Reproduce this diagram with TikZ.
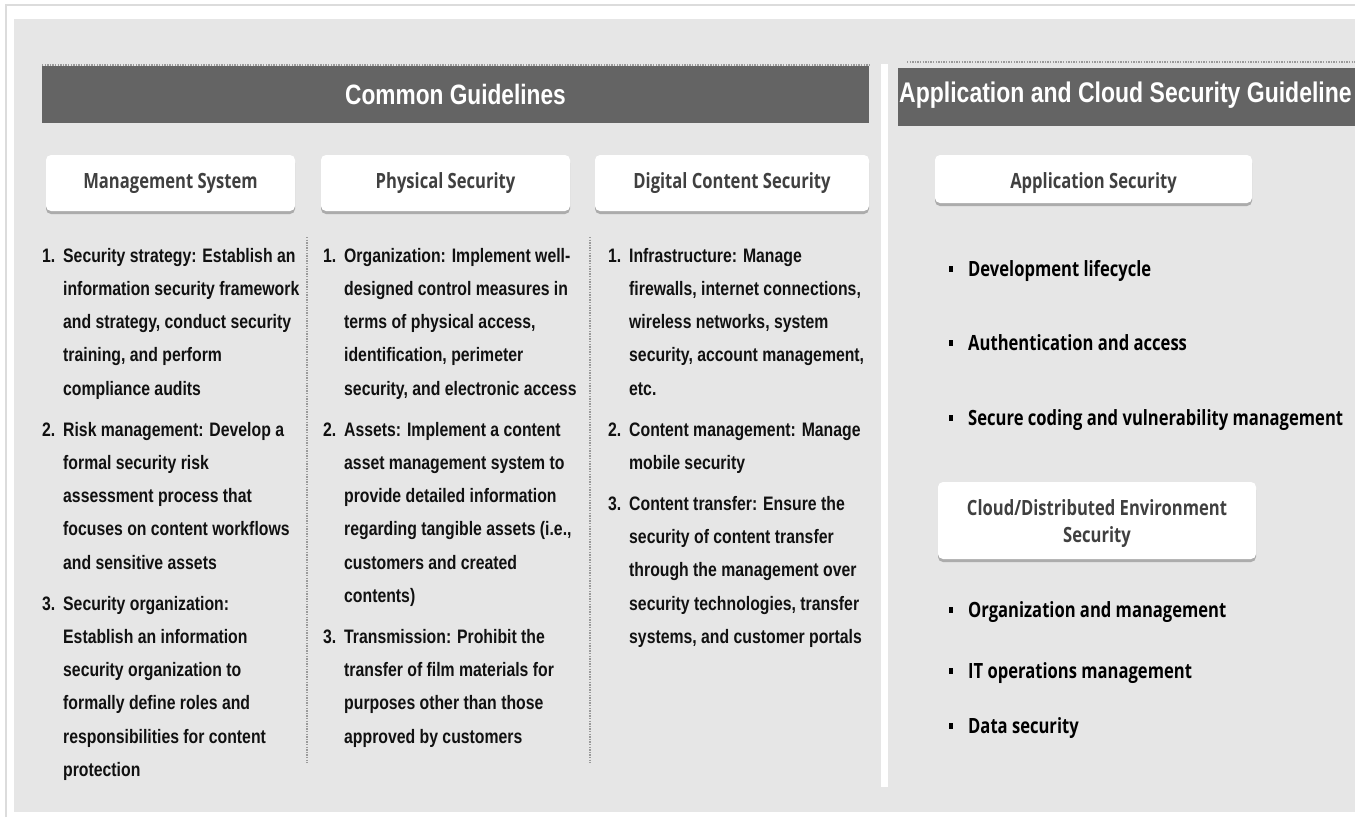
\documentclass[tikz,border=0pt]{standalone}
\usepackage{fontspec}
\usetikzlibrary{shadows}
\newfontfamily\bodyfont[FakeStretch=0.81]{Liberation Sans}
\newfontfamily\headfont[FakeStretch=0.79]{Open Sans}
\definecolor{panel}{HTML}{E6E6E6}
\definecolor{bannergray}{HTML}{646464}
\definecolor{headtxt}{HTML}{404040}
\definecolor{dotgray}{HTML}{9A9A9A}
\definecolor{framegray}{HTML}{DCDCDC}
\definecolor{bodytxt}{HTML}{111111}
\newcommand{\nm}[1]{\makebox[21pt][l]{#1}}
\newcommand{\sqbul}{\makebox[19pt][l]{\rule[4.5pt]{4pt}{5.5pt}}}
\tikzset{
  hbox/.style={fill=white, rounded corners=5pt, inner sep=0pt,
    drop shadow={shadow xshift=0pt, shadow yshift=-3pt, opacity=0.25, fill=black}},
  htext/.style={text=headtxt, font=\headfont\bfseries\fontsize{21}{27}\selectfont, inner sep=0pt, anchor=base},
  bantext/.style={text=white, font=\bodyfont\bfseries\fontsize{28}{32}\selectfont, inner sep=0pt, anchor=base},
  bodytext/.style={text=bodytxt, font=\bodyfont\bfseries\fontsize{19.5}{33.3}\selectfont, inner sep=0pt, anchor=base west},
  bultext/.style={text=black, font=\headfont\bfseries\fontsize{21}{27}\selectfont, inner sep=0pt, anchor=base west},
  dotline/.style={draw=dotgray, line width=1.3pt, dash pattern=on 1.3pt off 1.3pt},
  bannerbox/.style={fill=bannergray, inner sep=0pt, anchor=north west}
}
\begin{document}
\begin{tikzpicture}[x=1pt,y=-1pt]
\useasboundingbox (0,0) rectangle (1366,817);
\fill[white] (0,0) rectangle (1366,817);
\draw[framegray, line width=2pt] (6,817) -- (6,5) -- (1355,5);
\fill[panel] (14,19) rectangle (1355,812);

% banners
\node[bannerbox, minimum width=827pt, minimum height=57pt] (cgban) at (42,66) {};
\draw[dotline] (42,65) -- (869,65);
\node[bantext] (cgtitle) at (455.5,104.5) {Common Guidelines};

\node[bannerbox, minimum width=457pt, minimum height=58pt] (acban) at (898,68) {};
\draw[dotline] (907,62) -- (1355,62);
\node[bantext, anchor=base west, font=\bodyfont\bfseries\fontsize{28.4}{33}\selectfont] (actitle) at (899,102) {Application and Cloud Security Guideline};

% white separator
\fill[white] (881,64) rectangle (888,787);

% header boxes
\node[hbox, minimum width=249pt, minimum height=56pt] (msbox) at (170.5,183) {};
\node[htext] (mslabel) at (170.5,188) {Management System};
\node[hbox, minimum width=249pt, minimum height=56pt] (psbox) at (445.5,183) {};
\node[htext] (pslabel) at (445.5,188) {Physical Security};
\node[hbox, minimum width=274pt, minimum height=56pt] (dcbox) at (732,183) {};
\node[htext] (dclabel) at (732,188) {Digital Content Security};
\node[hbox, minimum width=317pt, minimum height=48pt] (asbox) at (1093.5,179) {};
\node[htext] (aslabel) at (1093.5,188) {Application Security};
\node[hbox, minimum width=318pt, minimum height=77pt] (cdbox) at (1097,520.5) {};
\node[htext] (cdlabel) at (1097,515) {\begin{tabular}[t]{@{}c@{}}Cloud/Distributed Environment\\Security\end{tabular}};

% dotted column separators
\draw[dotline] (307,237) -- (307,763);
\draw[dotline] (590,237) -- (590,763);

% column 1
\node[bodytext] (col1) at (42,262) {\begin{tabular}[t]{@{}l@{}l@{}}
\nm{1.} & Security strategy: Establish an\\
 & information security framework\\
 & and strategy, conduct security\\
 & training, and perform\\
 & compliance audits\\[7.5pt]
\nm{2.} & Risk management: Develop a\\
 & formal security risk\\
 & assessment process that\\
 & focuses on content workflows\\
 & and sensitive assets\\[7.5pt]
\nm{3.} & Security organization:\\
 & Establish an information\\
 & security organization to\\
 & formally define roles and\\
 & responsibilities for content\\
 & protection
\end{tabular}};

% column 2
\node[bodytext] (col2) at (323,262) {\begin{tabular}[t]{@{}l@{}l@{}}
\nm{1.} & Organization: Implement well-\\
 & designed control measures in\\
 & terms of physical access,\\
 & identification, perimeter\\
 & security, and electronic access\\[7.5pt]
\nm{2.} & Assets: Implement a content\\
 & asset management system to\\
 & provide detailed information\\
 & regarding tangible assets (i.e.,\\
 & customers and created\\
 & contents)\\[7.5pt]
\nm{3.} & Transmission: Prohibit the\\
 & transfer of film materials for\\
 & purposes other than those\\
 & approved by customers
\end{tabular}};

% column 3
\node[bodytext] (col3) at (608,262) {\begin{tabular}[t]{@{}l@{}l@{}}
\nm{1.} & Infrastructure: Manage\\
 & firewalls, internet connections,\\
 & wireless networks, system\\
 & security, account management,\\
 & etc.\\[7.5pt]
\nm{2.} & Content management: Manage\\
 & mobile security\\[7.5pt]
\nm{3.} & Content transfer: Ensure the\\
 & security of content transfer\\
 & through the management over\\
 & security technologies, transfer\\
 & systems, and customer portals
\end{tabular}};

% application security bullets
\node[bultext] (as1) at (949,276) {\sqbul Development lifecycle};
\node[bultext] (as2) at (949,350) {\sqbul Authentication and access};
\node[bultext] (as3) at (949,425) {\sqbul Secure coding and vulnerability management};

% cloud bullets
\node[bultext] (cd1) at (949,617) {\sqbul Organization and management};
\node[bultext] (cd2) at (949,678) {\sqbul IT operations management};
\node[bultext] (cd3) at (949,733) {\sqbul Data security};
\end{tikzpicture}
\end{document}
